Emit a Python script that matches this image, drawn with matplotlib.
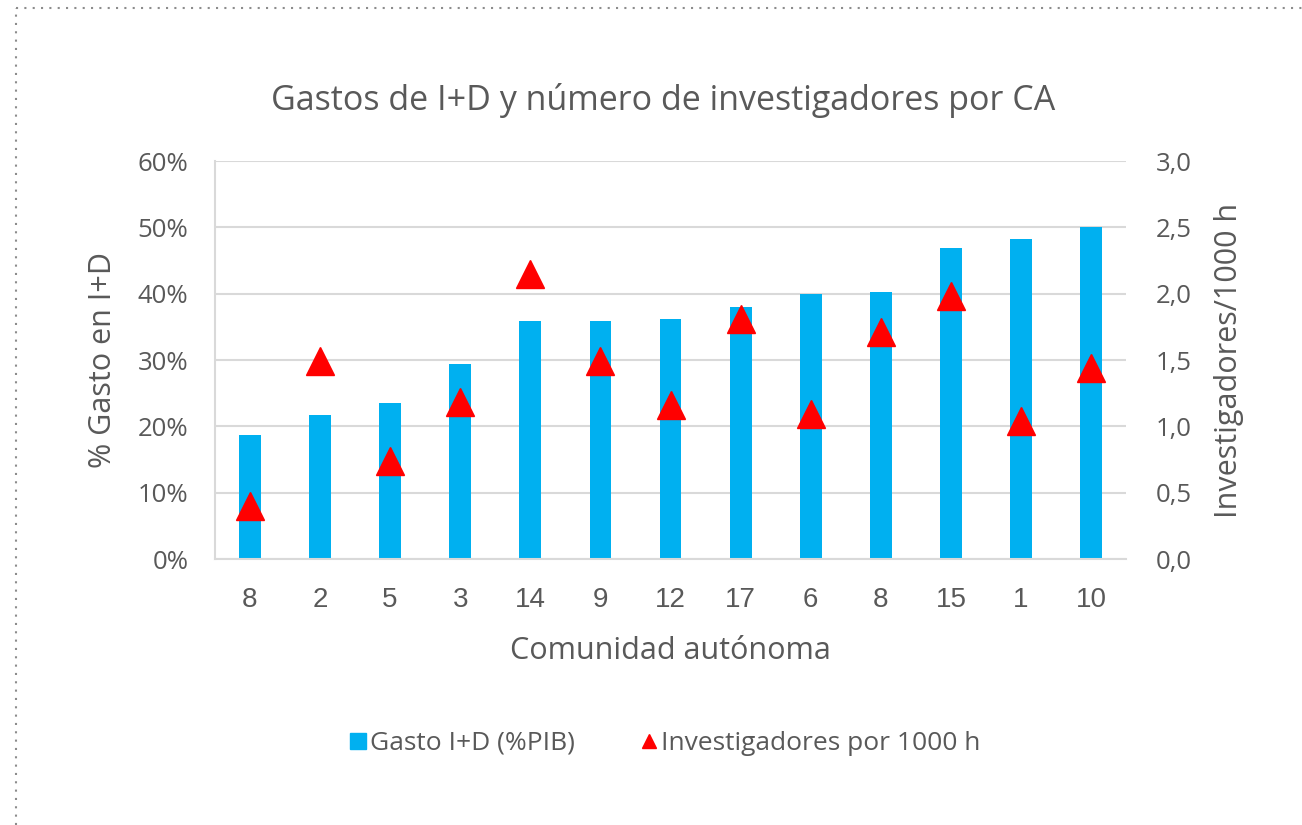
import numpy as np
import matplotlib.pyplot as plt
from matplotlib.lines import Line2D
from matplotlib.ticker import FuncFormatter

categorias = ["8", "2", "5", "3", "14", "9", "12", "17", "6", "8", "15", "1", "10"]
gasto_pib = [18.7, 21.7, 23.5, 29.4, 35.9, 35.9, 36.2, 38.0, 40.0, 40.3, 46.9, 48.3, 50.0]
investigadores = [0.40, 1.49, 0.74, 1.18, 2.15, 1.49, 1.16, 1.81, 1.09, 1.71, 1.98, 1.04, 1.44]

TXT = "#595959"
AZUL = "#00B0F0"
ROJO = "#FF0000"
GRID = "#D9D9D9"
FT = "Open Sans"
FN = "Liberation Sans"

fig = plt.figure(figsize=(13.02, 8.25), dpi=100)
ax = fig.add_axes([0.165, 0.3224, 0.700, 0.4824])
ax2 = ax.twinx()

x = np.arange(len(categorias))
ax.bar(x, gasto_pib, width=0.31, color=AZUL, zorder=2)
ax2.plot(x, investigadores, linestyle="none", marker="^", markersize=19.5,
         color=ROJO, zorder=3)

ax.set_xlim(-0.5, len(categorias) - 0.5)
ax.set_ylim(0, 60)
ax.set_yticks(np.arange(0, 61, 10))
ax.yaxis.set_major_formatter(FuncFormatter(lambda v, p: "%d%%" % v))
ax2.set_ylim(0, 3.0)
ax2.set_yticks(np.arange(0, 3.01, 0.5))
ax2.yaxis.set_major_formatter(FuncFormatter(lambda v, p: ("%.1f" % v).replace(".", ",")))

ax.set_xticks(x)
ax.set_xticklabels(categorias)
ax.grid(axis="y", color=GRID, linewidth=1.5, zorder=0)
ax.set_axisbelow(True)

for a in (ax, ax2):
    for s in ("top", "right", "left", "bottom"):
        a.spines[s].set_visible(False)
    a.tick_params(length=0, labelcolor=TXT)
for s in ("left", "bottom"):
    ax.spines[s].set_visible(True)
    ax.spines[s].set_color(GRID)
    ax.spines[s].set_linewidth(1.5)
ax.tick_params(axis="x", pad=20, labelsize=20)
ax.tick_params(axis="y", pad=19, labelsize=18.5)
ax2.tick_params(axis="y", pad=21, labelsize=18.5)
for lab in ax.get_xticklabels():
    lab.set_family(FN)
for lab in ax.get_yticklabels() + ax2.get_yticklabels():
    lab.set_family(FT)

ax.set_xlabel("Comunidad autónoma", fontsize=22, color=TXT, family=FT, labelpad=17)
ax.set_ylabel("% Gasto en I+D", fontsize=22, color=TXT, family=FT, labelpad=14)
ax2.set_ylabel("Investigadores/1000 h", fontsize=22, color=TXT, family=FT, labelpad=16)

fig.text(0.509, 0.878, "Gastos de I+D y número de investigadores por CA", ha="center",
         va="center", fontsize=24.5, color=TXT, family=FT)

handles = [
    Line2D([], [], linestyle="none", marker="s", markersize=11.5, color=AZUL),
    Line2D([], [], linestyle="none", marker="^", markersize=10, color=ROJO),
]
fig.legend(handles, ["Gasto I+D (%PIB)", "Investigadores por 1000 h"],
           loc="center", bbox_to_anchor=(0.51, 0.099), ncol=2, frameon=False,
           prop={"family": FT, "size": 19}, labelcolor=TXT, handletextpad=0.05,
           columnspacing=2.4, handlelength=0.8)

# dotted frame (top and left edges)
fig.add_artist(Line2D([0.0125, 1.0], [0.99, 0.99], transform=fig.transFigure,
                      color="#8C8C8C", linestyle=(0, (1, 3)), linewidth=1.5))
fig.add_artist(Line2D([0.0125, 0.0125], [0.0, 0.99], transform=fig.transFigure,
                      color="#8C8C8C", linestyle=(0, (1, 3)), linewidth=1.5))

fig.savefig("out.png", dpi=100)
